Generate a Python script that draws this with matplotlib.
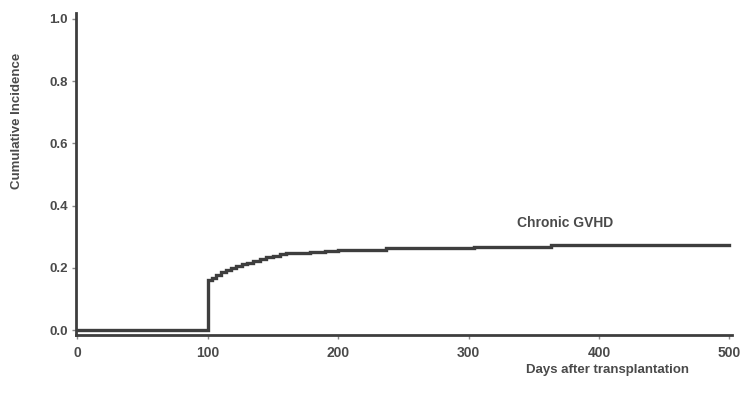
import matplotlib
matplotlib.use("Agg")
import matplotlib.pyplot as plt

# Step-function data
days = [0, 100, 103, 106, 110, 114, 118, 122, 126, 130, 135, 140, 145, 150, 155, 160, 178, 190, 200, 237, 304, 363, 500]
incidence = [0.0, 0.16, 0.168, 0.176, 0.185, 0.193, 0.200, 0.207, 0.212, 0.217, 0.222, 0.228, 0.234,
             0.239, 0.244, 0.247, 0.252, 0.255, 0.258, 0.263, 0.266, 0.272, 0.272]
x_ticks = [0, 100, 200, 300, 400, 500]
y_ticks = [0.0, 0.2, 0.4, 0.6, 0.8, 1.0]
y_tick_labels = ["0.0", "0.2", "0.4", "0.6", "0.8", "1.0"]

plt.rcParams['font.family'] = ['Liberation Sans', 'DejaVu Sans']
text_col = "#4a4a4a"
line_col = "#3e3e3e"

fig = plt.figure(figsize=(7.41, 4.04), dpi=100)
ax = fig.add_axes([0.1026, 0.1715, 0.8854, 0.797])

ax.step(days, incidence, where="post", color=line_col, lw=2.4, solid_joinstyle="miter")

ax.set_xlim(-1, 502)
ax.set_ylim(-0.015, 1.02)
ax.set_xticks(x_ticks)
ax.set_yticks(y_ticks)
ax.set_yticklabels(y_tick_labels)
for s in ["top", "right"]:
    ax.spines[s].set_visible(False)
for s in ["left", "bottom"]:
    ax.spines[s].set_color(line_col)
    ax.spines[s].set_linewidth(2.0)
ax.tick_params(axis="both", length=3, width=1, color="#888888",
               labelcolor=text_col, pad=4)
ax.tick_params(axis="x", labelsize=10, pad=5)
ax.tick_params(axis="y", labelsize=9.5, pad=3)
for lbl in ax.get_xticklabels() + ax.get_yticklabels():
    lbl.set_fontweight("bold")

fig.text(0.023, 0.70, "Cumulative Incidence", rotation=90, ha="center", va="center",
         fontsize=9.5, fontweight="bold", color=text_col)
fig.text(0.82, 0.084, "Days after transplantation", ha="center", va="center",
         fontsize=9.5, fontweight="bold", color=text_col)
ax.text(374, 0.345, "Chronic GVHD", ha="center", va="center",
        fontsize=10, fontweight="bold", color=text_col)

fig.savefig("out.png", dpi=100)
